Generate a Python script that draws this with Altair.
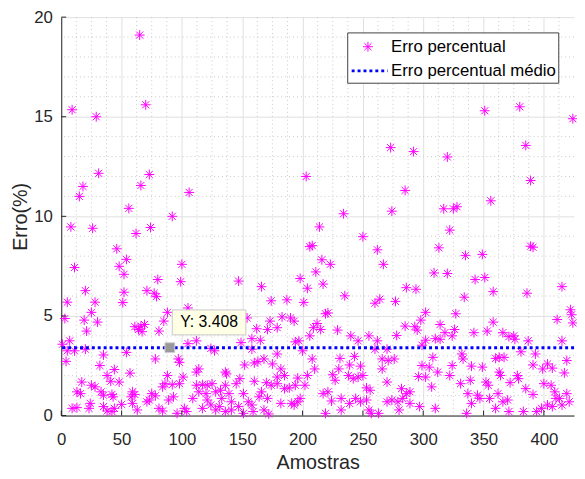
import altair as alt
import pandas as pd

# ---------------- data ----------------
amostras = [
    9, 29, 65, 70, 31, 18, 15, 73, 66, 56, 92, 106, 203, 273, 292, 285, 234, 274, 320, 351, 380, 424, 385, 389, 356, 317, 325, 328,
    8, 26, 62, 74, 46, 54, 48, 52, 11, 100, 80, 99, 20, 52, 71, 77, 79, 5, 28, 51, 25, 3, 19, 30, 88, 85, 61, 66, 69, 67, 64, 21, 81,
    7, 1, 5, 11, 20, 54, 35, 4, 78, 97, 98, 32, 44, 57, 38, 88, 101, 17, 41, 48, 25, 28, 86, 92, 84, 98, 13, 16, 33, 35, 42, 43,
    59, 61, 58, 75, 78, 93, 89, 73, 71, 24, 23, 9, 13, 35, 38, 42, 44, 50, 59, 63, 81, 84, 96, 102,
    206, 208, 147, 166, 198, 204, 174, 187, 201, 105, 154, 173, 183, 190, 193, 162, 171, 179, 206, 209, 158, 165, 149, 194, 197,
    105, 112, 124, 127, 200, 158, 179, 208, 152, 160, 163, 168, 175, 182, 114, 112, 136, 137, 148, 160, 170, 179, 185, 196, 204,
    112, 117, 121, 125, 136, 145, 174, 179, 185, 189, 194, 202, 114, 120, 128, 132, 139, 151, 166, 109, 121, 133, 141, 155, 164,
    171, 182, 191, 198, 104, 117, 128, 136, 141, 151, 159, 168, 172, 124, 131, 147, 158, 193, 196,
    214, 250, 262, 313, 216, 223, 267, 211, 309, 217, 286, 294, 235, 264, 260, 277, 219, 221, 302, 298, 212, 215, 229, 285, 293,
    295, 314, 240, 255, 246, 262, 278, 302, 310, 299, 260, 270, 210, 231, 243, 239, 230, 266, 271, 276, 266, 248, 250, 299, 305,
    308, 312, 225, 227, 238, 242, 246, 296, 302, 307, 270, 253, 256, 217, 221, 282, 289, 286, 224, 232, 239, 244, 248, 253, 270,
    274, 279, 283, 289, 297, 219, 232, 255, 257, 263, 280, 310,
    322, 335, 349, 389, 391, 320, 343, 351, 358, 334, 386, 415, 327, 422, 423, 424, 411, 358, 318, 324, 326, 314, 342, 353, 366,
    371, 375, 376, 387, 415, 381, 393, 332, 333, 360, 363, 367, 419, 324, 340, 349, 391, 399, 403, 407, 363, 364, 378, 379, 322,
    417, 331, 339, 352, 354, 372, 385, 400, 406, 337, 345, 347, 362, 391, 409, 419, 340, 355, 366, 370, 413, 421, 336, 360, 371,
    383, 394, 398, 403, 407, 415, 410,
]
erros = [
    15.35, 15.0, 19.1, 15.6, 12.16, 11.5, 11.0, 12.1, 11.55, 10.4, 10.0, 11.2, 12.0, 13.45, 13.25, 11.3, 10.13, 10.26, 12.98, 15.3,
    15.5, 14.9, 13.56, 11.8, 10.78, 10.38, 10.38, 10.48,
    9.47, 9.4, 9.14, 9.44, 8.37, 7.84, 7.49, 7.09, 7.43, 7.59, 6.83, 6.72, 6.27, 6.19, 6.27, 6.14, 5.97, 5.69, 5.69, 5.67, 5.18,
    4.87, 4.79, 4.69, 5.18, 4.74, 4.46, 4.49, 4.57, 4.21, 4.32, 4.24, 4.24,
    3.75, 3.58, 3.25, 3.25, 3.33, 3.17, 3.04, 2.72, 2.84, 2.84, 2.67, 2.51, 2.31, 2.13, 2.01, 2.01, 1.93, 1.68, 1.72, 1.68, 1.52,
    1.44, 1.6, 1.55, 1.44, 1.6, 1.19, 1.1, 1.19, 1.02, 1.06, 0.94,
    1.19, 1.06, 0.94, 1.1, 0.99, 0.94, 0.78, 0.78, 0.69, 0.61, 0.36, 0.36, 0.4, 0.45, 0.23, 0.2, 0.36, 0.56, 0.61, 0.28, 0.36, 0.23,
    0.11, 0.36,
    8.48, 8.53, 6.75, 6.47, 6.88, 6.39, 5.76, 5.81, 5.68, 5.4, 4.9, 4.74, 4.95, 4.9, 4.74, 4.36, 4.32, 4.41, 4.0, 4.41, 3.86, 3.78,
    3.66, 3.7, 3.75,
    3.61, 3.75, 3.37, 3.25, 3.25, 3.33, 3.09, 2.84, 2.54, 2.64, 2.71, 2.84, 2.59, 2.34, 2.34, 2.18, 2.18, 2.09, 1.85, 1.72, 1.65,
    1.93, 2.01, 1.88, 2.01,
    1.52, 1.55, 1.52, 1.6, 1.52, 1.6, 1.52, 1.6, 1.35, 1.39, 1.52, 1.52, 1.19, 1.1, 1.19, 1.27, 1.1, 1.1, 1.19, 0.86, 0.78, 0.86,
    0.69, 0.69, 0.94,
    0.86, 0.61, 0.61, 0.86, 0.2, 0.36, 0.28, 0.2, 0.28, 0.11, 0.2, 0.28, 0.08, 0.53, 0.45, 0.45, 0.53, 0.53, 0.69,
    9.47, 8.98, 8.32, 8.42, 7.82, 7.59, 7.59, 7.21, 7.16, 6.6, 6.42, 6.34, 6.01, 5.84, 5.64, 5.73, 5.11, 5.15, 5.18, 4.79, 4.62,
    4.32, 4.29, 4.49, 4.46,
    4.29, 4.57, 4.0, 4.0, 3.75, 3.75, 4.02, 3.78, 3.86, 3.53, 3.33, 3.33, 2.34, 2.87, 2.97, 2.54, 2.34, 2.84, 2.76, 2.84, 2.34,
    2.48, 2.01, 2.51, 2.43,
    2.92, 2.18, 2.05, 1.77, 2.01, 1.85, 1.93, 1.96, 1.93, 1.44, 1.68, 1.39, 1.27, 1.1, 1.19, 1.35, 1.19, 1.1, 0.73, 0.86, 0.61,
    0.86, 0.69, 0.78, 0.69,
    0.78, 0.69, 0.86, 0.61, 0.45, 0.11, 0.28, 0.28, 0.11, 0.11, 0.28, 0.36,
    9.31, 8.04, 8.09, 8.5, 8.45, 7.13, 6.83, 6.93, 6.22, 5.94, 6.14, 6.47, 5.11, 5.31, 5.06, 4.65, 4.82, 4.69, 4.16, 4.0, 4.32,
    3.83, 4.16, 4.24, 4.16,
    3.96, 4.0, 3.83, 3.75, 3.75, 3.2, 3.09, 3.09, 2.84, 2.87, 2.92, 2.92, 2.76, 2.51, 2.48, 2.43, 2.54, 2.34, 2.59, 2.38, 2.18,
    2.01, 2.01, 1.85, 2.01,
    2.14, 1.6, 1.77, 1.68, 1.52, 1.65, 1.35, 1.6, 1.52, 1.1, 1.02, 0.86, 1.1, 1.06, 1.19, 1.1, 0.61, 0.86, 0.69, 0.78, 0.86, 0.69,
    0.11, 0.36, 0.2,
    0.2, 0.2, 0.36, 0.53, 0.45, 0.53, 0.86,
]

media_erro = 3.408          # mean error (datatip value)
dica_amostra = 90           # sample where the datatip sits
x_max = 425
y_max = 20
x_ticks = [0, 50, 100, 150, 200, 250, 300, 350, 400]
y_ticks = [0, 5, 10, 15, 20]
serie_nome = "Erro percentual"
media_nome = "Erro percentual médio"
dica_texto = "Y: 3.408"

# ---------------- styling ----------------
W, H = 520, 404
AX = "#262626"
GRID = "#DFDFDF"
MINOR = "#C8C8C8"
MAG = "#FF00FF"
BLUE = "#0000FF"
FONT = "Liberation Sans"
ASTER = "M-1,0L1,0M0,-1L0,1M-0.72,-0.72L0.72,0.72M-0.72,0.72L0.72,-0.72"

pts = pd.DataFrame({"Amostras": amostras, "Erro": erros})
xs = alt.Scale(domain=[0, x_max], nice=False, zero=False)
ys = alt.Scale(domain=[0, y_max], nice=False, zero=False)

x_axis = alt.Axis(
    values=x_ticks, grid=True, gridColor=GRID, gridWidth=1, domainColor=AX, domainWidth=1,
    ticks=False, tickSize=0, labelFontSize=17, labelColor=AX, labelFont=FONT, labelPadding=16,
    title="Amostras", titleFontSize=20, titleFontWeight="normal", titleColor=AX, titleFont=FONT,
    titlePadding=6, labelFlush=False)
y_axis = alt.Axis(
    values=y_ticks, grid=True, gridColor=GRID, gridWidth=1, domainColor=AX, domainWidth=1,
    ticks=False, tickSize=0, labelFontSize=17, labelColor=AX, labelFont=FONT, labelPadding=9,
    title="Erro(%)", titleFontSize=20, titleFontWeight="normal", titleColor=AX, titleFont=FONT,
    titlePadding=3, labelFlush=False)


def X(field):
    return alt.X(field, scale=xs, axis=x_axis)


def Y(field):
    return alt.Y(field, scale=ys, axis=y_axis)


minor_x = pd.DataFrame({"v": [i * 12.5 for i in range(1, 34) if (i * 12.5) % 50 != 0]})
minor_y = pd.DataFrame({"v": [i for i in range(1, 20) if i % 5 != 0]})

gx = alt.Chart(minor_x).mark_rule(color=MINOR, strokeDash=[1, 3], strokeWidth=1).encode(x=X("v:Q"))
gy = alt.Chart(minor_y).mark_rule(color=MINOR, strokeDash=[1, 3], strokeWidth=1).encode(y=Y("v:Q"))

points = alt.Chart(pts).mark_point(
    shape=ASTER, size=100, filled=False, color=MAG, strokeWidth=1, opacity=1
).encode(x=X("Amostras:Q"), y=Y("Erro:Q"))

xt = alt.Chart(pd.DataFrame({"t": x_ticks})).mark_rule(color=AX, strokeWidth=1).encode(
    x=X("t:Q"), y=alt.value(H), y2=alt.value(H - 5))
yt = alt.Chart(pd.DataFrame({"t": y_ticks})).mark_rule(color=AX, strokeWidth=1).encode(
    y=Y("t:Q"), x=alt.value(0), x2=alt.value(5))

mean_df = pd.DataFrame({"m": [media_erro]})
mean_line = alt.Chart(mean_df).mark_rule(color=BLUE, strokeWidth=3, strokeDash=[3, 3]).encode(y=Y("m:Q"))

tip_df = pd.DataFrame({"x": [dica_amostra], "y": [media_erro],
                       "bx": [92], "bx2": [153], "by": [5.30], "by2": [4.05],
                       "tx": [122.5], "ty": [4.68], "txt": [dica_texto]})
tip_marker = alt.Chart(tip_df).mark_square(size=100, color="#999999", opacity=1, stroke="#D0D0D0", strokeWidth=1).encode(
    x=X("x:Q"), y=Y("y:Q"))
tip_box = alt.Chart(tip_df).mark_rect(fill="#FFFFE6", stroke="#C8C8C8", strokeWidth=1).encode(
    x=X("bx:Q"), x2="bx2:Q", y=Y("by:Q"), y2="by2:Q")
tip_text = alt.Chart(tip_df).mark_text(font=FONT, fontSize=16, color="#000000", align="center", baseline="middle").encode(
    x=X("tx:Q"), y=Y("ty:Q"), text="txt:N")

one = pd.DataFrame({"k": [0]})
leg_box = alt.Chart(one).mark_rect(fill="white", stroke="#404040", strokeWidth=1).encode(
    x=alt.value(290.5), x2=alt.value(504.5), y=alt.value(16), y2=alt.value(67))
leg_sym = alt.Chart(one).mark_point(shape=ASTER, size=100, filled=False, color=MAG, strokeWidth=1, opacity=1).encode(
    x=alt.value(311), y=alt.value(30))
leg_line = alt.Chart(one).mark_rule(color=BLUE, strokeWidth=3, strokeDash=[3, 3]).encode(
    x=alt.value(294.5), x2=alt.value(331), y=alt.value(54.5))
leg_t1 = alt.Chart(one).mark_text(font=FONT, fontSize=17, color="#000000", align="left", baseline="middle").encode(
    x=alt.value(334.5), y=alt.value(30), text=alt.value(serie_nome))
leg_t2 = alt.Chart(one).mark_text(font=FONT, fontSize=17, color="#000000", align="left", baseline="middle").encode(
    x=alt.value(334.5), y=alt.value(54.5), text=alt.value(media_nome))

chart = alt.layer(
    gx, gy, points, mean_line, tip_marker, tip_box, tip_text, xt, yt,
    leg_box, leg_sym, leg_line, leg_t1, leg_t2
).properties(
    width=W, height=H,
    autosize=alt.AutoSizeParams(type="none"),
    padding={"left": 54, "top": 6, "right": 3, "bottom": 55},
).configure(font=FONT).configure_view(strokeWidth=0)

chart.save("out.html", embed_options={"renderer": "svg", "actions": False})
